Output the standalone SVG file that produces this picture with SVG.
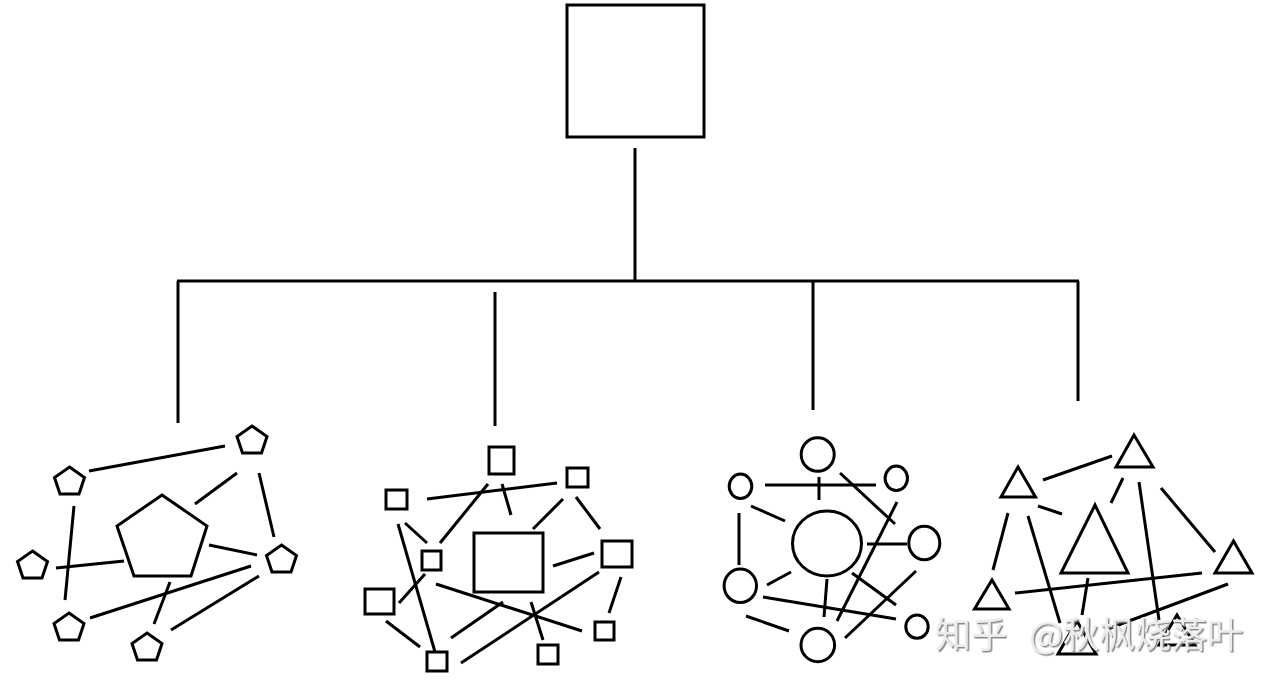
<svg xmlns="http://www.w3.org/2000/svg" width="1280" height="685" viewBox="0 0 1280 685">
<style>
.s{fill:#fff;stroke:#000;stroke-width:3}
.c line{stroke:#000;stroke-width:3}
.wm{font-family:"Noto Sans CJK SC","Noto Sans",sans-serif;font-size:36px;fill:#ececec;word-spacing:14px;filter:url(#sh)}
</style>
<defs>
<path id="pent" d="M0,-15 L15,-4.5 L9.5,12 L-9.5,12 L-15,-4.5 Z"/>
<filter id="sh" x="-5%" y="-20%" width="110%" height="140%"><feDropShadow dx="1.5" dy="1.5" stdDeviation="0.6" flood-color="#8a8a8a"/></filter>
</defs>
<rect width="1280" height="685" fill="#fff"/>
<g id="connectors" class="c">
<line x1="635" y1="148" x2="635" y2="281"/>
<line x1="177" y1="281" x2="1079" y2="281"/>
<line x1="178" y1="281" x2="178" y2="423"/>
<line x1="495" y1="292" x2="495" y2="426"/>
<line x1="813" y1="281" x2="813" y2="410"/>
<line x1="1078" y1="281" x2="1078" y2="401"/>
<!-- cluster 1 -->
<line x1="89" y1="471" x2="225" y2="446"/>
<line x1="195" y1="504" x2="237" y2="473"/>
<line x1="259" y1="473" x2="274" y2="537"/>
<line x1="74" y1="506" x2="65" y2="600"/>
<line x1="56" y1="568" x2="124" y2="561"/>
<line x1="209" y1="545" x2="257" y2="555"/>
<line x1="90" y1="618" x2="251" y2="566"/>
<line x1="170" y1="582" x2="154" y2="624"/>
<line x1="171" y1="630" x2="259" y2="576"/>
<!-- cluster 2 -->
<line x1="427" y1="499" x2="557" y2="483"/>
<line x1="488" y1="484" x2="440" y2="543"/>
<line x1="502" y1="484" x2="511" y2="515"/>
<line x1="563" y1="499" x2="533" y2="529"/>
<line x1="576" y1="497" x2="600" y2="529"/>
<line x1="405" y1="523" x2="427" y2="543"/>
<line x1="398" y1="524" x2="435" y2="652"/>
<line x1="553" y1="566" x2="594" y2="553"/>
<line x1="425" y1="574" x2="399" y2="603"/>
<line x1="436" y1="584" x2="582" y2="631"/>
<line x1="503" y1="602" x2="451" y2="638"/>
<line x1="599" y1="572" x2="461" y2="663"/>
<line x1="531" y1="602" x2="543" y2="640"/>
<line x1="621" y1="577" x2="609" y2="613"/>
<line x1="386" y1="621" x2="420" y2="647"/>
<!-- cluster 3 -->
<line x1="765" y1="485" x2="876" y2="485"/>
<line x1="819" y1="477" x2="819" y2="500"/>
<line x1="840" y1="473" x2="895" y2="524"/>
<line x1="751" y1="506" x2="785" y2="521"/>
<line x1="739" y1="513" x2="739" y2="565"/>
<line x1="867" y1="544" x2="907" y2="544"/>
<line x1="897" y1="502" x2="837" y2="621"/>
<line x1="767" y1="585" x2="791" y2="572"/>
<line x1="827" y1="579" x2="824" y2="617"/>
<line x1="852" y1="573" x2="896" y2="605"/>
<line x1="763" y1="597" x2="896" y2="619"/>
<line x1="916" y1="571" x2="845" y2="638"/>
<line x1="746" y1="616" x2="789" y2="631"/>
<!-- cluster 4 -->
<line x1="1043" y1="480" x2="1112" y2="456"/>
<line x1="1038" y1="506" x2="1062" y2="514"/>
<line x1="1123" y1="478" x2="1111" y2="503"/>
<line x1="1139" y1="482" x2="1159" y2="620"/>
<line x1="1161" y1="488" x2="1215" y2="552"/>
<line x1="1008" y1="513" x2="993" y2="570"/>
<line x1="1028" y1="516" x2="1060" y2="623"/>
<line x1="1015" y1="593" x2="1202" y2="573"/>
<line x1="1088" y1="578" x2="1082" y2="615"/>
<line x1="1228" y1="584" x2="1105" y2="630"/>
</g>
<g id="root"><rect class="s" x="567" y="5" width="137" height="132"/></g>
<!-- cluster 1: pentagons -->
<g id="pent-center"><polygon class="s" points="162,495 207,526 191,576 134,576 117,526"/></g>
<g id="pent-1"><use href="#pent" class="s" x="252" y="441"/></g>
<g id="pent-2"><use href="#pent" class="s" x="69.5" y="482"/></g>
<g id="pent-3"><use href="#pent" class="s" x="32.5" y="566"/></g>
<g id="pent-4"><use href="#pent" class="s" x="281.5" y="560"/></g>
<g id="pent-5"><use href="#pent" class="s" x="69" y="628"/></g>
<g id="pent-6"><use href="#pent" class="s" x="147" y="648"/></g>
<!-- cluster 2: squares -->
<g id="sq-center"><rect class="s" x="474" y="533" width="69" height="59"/></g>
<g id="sq-1"><rect class="s" x="489" y="447" width="25" height="27"/></g>
<g id="sq-2"><rect class="s" x="567" y="468" width="21" height="19"/></g>
<g id="sq-3"><rect class="s" x="386" y="490" width="21" height="19"/></g>
<g id="sq-4"><rect class="s" x="422" y="551" width="19" height="19"/></g>
<g id="sq-5"><rect class="s" x="602" y="541" width="30" height="26"/></g>
<g id="sq-6"><rect class="s" x="365" y="589" width="29" height="25"/></g>
<g id="sq-7"><rect class="s" x="595" y="622" width="19" height="18"/></g>
<g id="sq-8"><rect class="s" x="538" y="645" width="20" height="19"/></g>
<g id="sq-9"><rect class="s" x="427" y="652" width="20" height="19"/></g>
<!-- cluster 3: circles -->
<g id="circ-center"><ellipse class="s" cx="827" cy="543.5" rx="34.5" ry="32.5"/></g>
<g id="circ-1"><ellipse class="s" cx="817.7" cy="454.5" rx="16.5" ry="16.8"/></g>
<g id="circ-2"><ellipse class="s" cx="740.5" cy="486.3" rx="11.3" ry="12.2"/></g>
<g id="circ-3"><ellipse class="s" cx="896.3" cy="478.3" rx="11.2" ry="12.2"/></g>
<g id="circ-4"><ellipse class="s" cx="924.3" cy="543" rx="15.5" ry="16.8"/></g>
<g id="circ-5"><ellipse class="s" cx="740.3" cy="585.8" rx="16.2" ry="16.7"/></g>
<g id="circ-6"><ellipse class="s" cx="917" cy="626.7" rx="11.2" ry="11.6"/></g>
<g id="circ-7"><ellipse class="s" cx="817.8" cy="645" rx="16.8" ry="16.7"/></g>
<!-- cluster 4: triangles -->
<g id="tri-center"><polygon class="s" points="1095,505 1128,573 1061,573"/></g>
<g id="tri-1"><polygon class="s" points="1134,435 1153,467 1116,467"/></g>
<g id="tri-2"><polygon class="s" points="1018,467 1035.5,497 1001,497"/></g>
<g id="tri-3"><polygon class="s" points="1233.5,541 1252,573 1215,573"/></g>
<g id="tri-4"><polygon class="s" points="992,580 1009,609 974.5,609"/></g>
<g id="tri-5"><polygon class="s" points="1077,621 1096,654 1058,654"/></g>
<g id="tri-6"><polygon class="s" points="1177,615 1195,645 1159,645"/></g>
<text class="wm" x="935" y="648">知乎 @秋枫烧落叶</text>
</svg>
